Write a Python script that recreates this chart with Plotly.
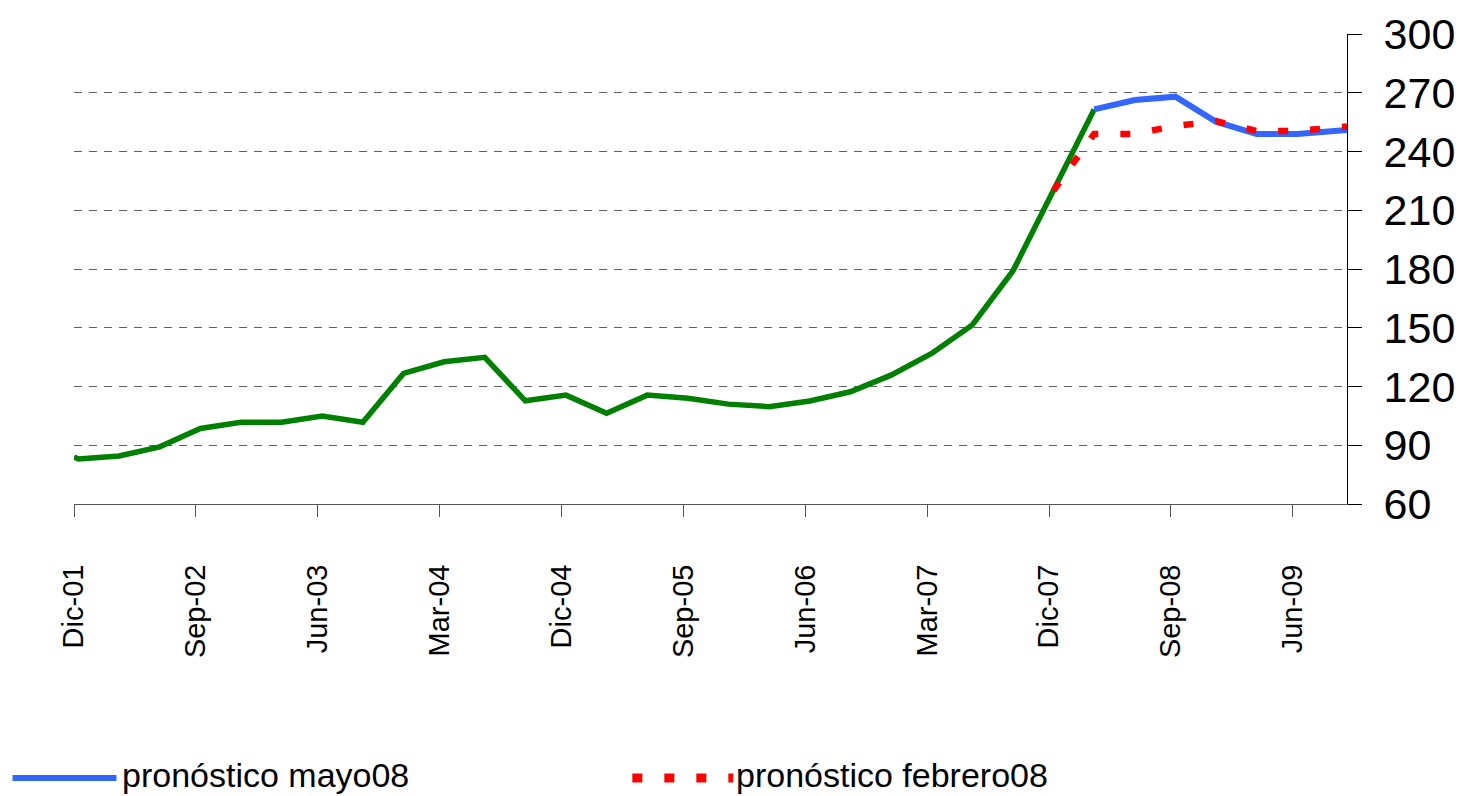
import plotly.graph_objects as go

# ---- data (months since Dec-2001) ----
tick_labels = ["Dic-01", "Sep-02", "Jun-03", "Mar-04", "Dic-04", "Sep-05",
               "Jun-06", "Mar-07", "Dic-07", "Sep-08", "Jun-09"]
tick_months = [0, 9, 18, 27, 36, 45, 54, 63, 72, 81, 90]

# historical series (green), quarterly from Dec-2001 to Mar-2008
hist_months = [0.0] + [0.33 + 3 * k for k in range(26)]
hist_values = [84, 83, 84.5, 89.2, 98.6, 101.7, 101.7, 104.9, 101.7, 126.7,
               132.6, 134.9, 112.7, 115.6, 106.3, 115.6, 114.0, 111.0, 109.7,
               112.6, 117.3, 125.8, 136.9, 151.4, 179.0, 220.0, 261.5]

# forecast May-08 (blue)
may_name = "pronóstico mayo08"
may_months = [0.33 + 3 * k for k in range(25, 31)] + [94.0]
may_values = [261.5, 266.3, 268.0, 255.2, 248.9, 248.9, 251.0]

# forecast Feb-08 (red dotted)
feb_name = "pronóstico febrero08"
feb_months = [0.33 + 3 * k for k in range(24, 31)] + [94.0]
feb_values = [220.0, 249.0, 249.0, 253.0, 255.5, 250.5, 250.5, 252.8]

FONT = "Liberation Sans, Arial, sans-serif"
GREEN, BLUE, RED = "#008000", "#3366FF", "#FF0000"
RED_DASH = "10px,22px"

fig = go.Figure()
fig.add_trace(go.Scatter(x=hist_months, y=hist_values, mode="lines",
                         line=dict(color=GREEN, width=5.5),
                         showlegend=False, name="historia"))
fig.add_trace(go.Scatter(x=may_months, y=may_values, mode="lines",
                         line=dict(color=BLUE, width=6),
                         showlegend=False, name=may_name))
fig.add_trace(go.Scatter(x=feb_months, y=feb_values, mode="lines",
                         line=dict(color=RED, width=6.5, dash=RED_DASH),
                         showlegend=False, name=feb_name))

# legend drawn below the plot (long line samples like the original)
LEG_Y = -0.583
legend_items = [
    dict(name=may_name, color=BLUE, width=6, dash="solid", x0=-0.0483, x1=0.0334, tx=0.0365),
    dict(name=feb_name, color=RED, width=9, dash=RED_DASH, x0=0.4386, x1=0.5179, tx=0.5187),
]
for it in legend_items:
    fig.add_shape(type="line", xref="paper", yref="paper",
                  x0=it["x0"], x1=it["x1"], y0=LEG_Y, y1=LEG_Y,
                  line=dict(color=it["color"], width=it["width"], dash=it["dash"]))
    fig.add_annotation(xref="paper", yref="paper", x=it["tx"], y=LEG_Y + 0.006,
                       xanchor="left", yanchor="middle", showarrow=False,
                       text=it["name"], font=dict(size=34, family=FONT, color="black"))

# the page body adds an 8px offset, so the figure is sized to the visible area
fig.update_layout(
    width=1455, height=788,
    margin=dict(l=65.5, r=116, t=26, b=292, autoexpand=False),
    paper_bgcolor="white", plot_bgcolor="white",
    font=dict(family=FONT, color="black"),
    showlegend=False,
)

fig.update_xaxes(
    range=[0, 94], tickmode="array", tickvals=tick_months, ticktext=tick_labels,
    tickangle=-90, tickfont=dict(size=29, family=FONT),
    ticks="outside", ticklen=12, tickcolor="#555", tickwidth=1,
    showline=True, linecolor="#555", linewidth=1,
    showgrid=False, zeroline=False, ticklabelstandoff=36,
)
fig.update_yaxes(
    range=[60, 300], tickmode="linear", tick0=60, dtick=30, side="right",
    tickfont=dict(size=43, family=FONT),
    ticks="outside", ticklen=14, tickcolor="black", tickwidth=1,
    showline=True, linecolor="black", linewidth=1,
    showgrid=True, gridcolor="#606060", gridwidth=1, griddash="8px,7px",
    zeroline=False, ticklabelstandoff=13,
)

fig.write_html("out.html")
